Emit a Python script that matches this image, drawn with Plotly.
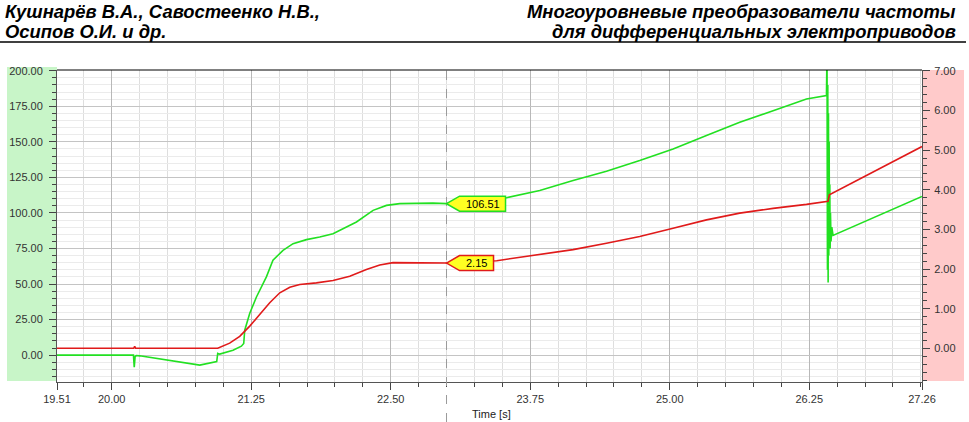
import plotly.graph_objects as go

# ---------------- data ----------------
green_t = [19.51, 20.195, 20.202, 20.210, 20.220, 20.251, 20.789, 20.878, 20.941, 20.950,
           20.968, 21.087, 21.162, 21.183, 21.192, 21.237, 21.297, 21.386, 21.445, 21.535,
           21.625, 21.745, 21.864, 21.983, 22.073, 22.193, 22.342, 22.462, 22.581, 22.877,
           23.000, 23.250, 23.537, 23.835, 24.134, 24.433, 24.731, 25.030, 25.329, 25.627,
           25.926, 26.225, 26.404,
           26.409, 26.413, 26.416, 26.419, 26.422, 26.425, 26.428, 26.431, 26.434, 26.437,
           26.440, 26.445, 26.452, 26.463, 27.260]
green_v = [0.0, 0.0, -8.5, -1.0, -0.3, -0.5, -7.0, -5.6, -4.5, 1.2,
           0.7, 3.5, 6.3, 8.2, 17.5, 29.5, 40.9, 55.0, 66.7, 73.7,
           78.4, 81.2, 83.0, 85.4, 88.9, 93.6, 101.8, 105.3, 106.5, 106.9,
           106.51, 107.6, 110.7, 115.8, 122.8, 129.3, 136.8, 145.0, 154.4, 163.7,
           171.9, 180.1, 182.5,
           215.0, 60.0, 190.0, 51.0, 170.0, 70.0, 150.0, 80.0, 120.0, 75.0,
           100.0, 80.0, 90.0, 84.2, 111.6]

red_t = [19.51, 20.197, 20.206, 20.215, 20.950, 20.968, 21.057, 21.147, 21.237, 21.326,
         21.416, 21.506, 21.596, 21.685, 21.834, 21.983, 22.133, 22.282, 22.402, 22.521,
         22.750, 23.000, 23.450, 23.835, 24.134, 24.433, 24.731, 25.030, 25.329, 25.627,
         25.926, 26.225, 26.404, 26.418, 26.430, 27.260]
red_v = [0.0, 0.0, 0.05, 0.0, 0.0, 0.02, 0.13, 0.30, 0.56, 0.85,
         1.15, 1.40, 1.54, 1.61, 1.65, 1.71, 1.82, 1.99, 2.10, 2.16,
         2.16, 2.15, 2.21, 2.36, 2.49, 2.65, 2.82, 3.03, 3.24, 3.41,
         3.53, 3.63, 3.69, 3.71, 3.87, 5.09]

x_tick_vals = [19.51, 20.00, 21.25, 22.50, 23.75, 25.00, 26.25, 27.26]
x_tick_text = ["19.51", "20.00", "21.25", "22.50", "23.75", "25.00", "26.25", "27.26"]
left_tick_vals = [0, 25, 50, 75, 100, 125, 150, 175, 200]
left_tick_text = ["0.00", "25.00", "50.00", "75.00", "100.00", "125.00", "150.00", "175.00", "200.00"]
right_tick_vals = [0, 1, 2, 3, 4, 5, 6, 7]
right_tick_text = ["0.00", "1.00", "2.00", "3.00", "4.00", "5.00", "6.00", "7.00"]

cursor_t = 23.0
cursor_green = 106.51
cursor_red = 2.15
cursor_green_text = "106.51"
cursor_red_text = "2.15"
x_title = "Time [s]"

header_left = ["Кушнарёв В.А., Савостеенко Н.В.,", "Осипов О.И. и др."]
header_right = ["Многоуровневые преобразователи частоты", "для дифференциальных электроприводов"]

# ---------------- layout helpers ----------------
W, H = 969, 422
ML, MR, MT, MB = 57, 47, 70, 40
PW, PH = W - ML - MR, H - MT - MB


def px(x):
    return (x - ML) / PW


def py(y):
    return (H - MB - y) / PH


FONT = "Liberation Sans, Arial, sans-serif"
GREEN = "#22e022"
RED = "#e01a1a"

fig = go.Figure()
fig.add_trace(go.Scatter(x=green_t, y=green_v, mode="lines",
                         line=dict(color=GREEN, width=1.6), yaxis="y", hoverinfo="skip"))
fig.add_trace(go.Scatter(x=red_t, y=red_v, mode="lines",
                         line=dict(color=RED, width=1.6), yaxis="y2", hoverinfo="skip"))

shapes = [
    # side panels
    dict(type="rect", xref="paper", yref="paper", x0=px(7), x1=0, y0=py(381), y1=py(67),
         fillcolor="#c8f5c8", line=dict(width=0), layer="below"),
    dict(type="rect", xref="paper", yref="paper", x0=1, x1=px(964), y0=py(381), y1=1,
         fillcolor="#ffcaca", line=dict(width=0), layer="below"),
    # top border
    dict(type="line", xref="paper", yref="paper", x0=0, x1=1, y0=1, y1=1,
         line=dict(color="#000000", width=1)),
    # cursor
    dict(type="line", xref="x", yref="paper", x0=cursor_t, x1=cursor_t, y0=py(422), y1=1,
         line=dict(color="#9a9a9a", width=1, dash="dash")),
    # header rule
    dict(type="line", xref="paper", yref="paper", x0=px(0), x1=px(966), y0=py(42), y1=py(42),
         line=dict(color="#000000", width=1.5)),
    # callouts
    dict(type="path", xref="x", yref="y", xsizemode="pixel", ysizemode="pixel",
         xanchor=cursor_t, yanchor=cursor_green,
         path="M0,0 L13,7.5 L59,7.5 L59,-7.5 L13,-7.5 Z",
         fillcolor="#ffff22", line=dict(color=GREEN, width=1.5)),
    dict(type="path", xref="x", yref="y2", xsizemode="pixel", ysizemode="pixel",
         xanchor=cursor_t, yanchor=cursor_red,
         path="M0,0 L13,7.5 L47,7.5 L47,-7.5 L13,-7.5 Z",
         fillcolor="#ffff22", line=dict(color=RED, width=1.5)),
]

annotations = [
    dict(x=cursor_t, y=cursor_green, xref="x", yref="y", text=cursor_green_text,
         showarrow=False, xanchor="center", yanchor="middle", xshift=36,
         font=dict(family=FONT, size=11, color="#000000")),
    dict(x=cursor_t, y=cursor_red, xref="x", yref="y2", text=cursor_red_text,
         showarrow=False, xanchor="center", yanchor="middle", xshift=30,
         font=dict(family=FONT, size=11, color="#000000")),
    dict(x=px(491), y=py(414), xref="paper", yref="paper", text=x_title, showarrow=False,
         xanchor="center", yanchor="middle", font=dict(family=FONT, size=11, color="#222222")),
]
hdr_font = dict(family=FONT, size=18.4, color="#000000")
for i, (lt, rt) in enumerate(zip(header_left, header_right)):
    yy = py(11 + 20 * i)
    annotations.append(dict(x=px(3), y=yy, xref="paper", yref="paper",
                            text="<b><i>" + lt + "</i></b>", showarrow=False,
                            xanchor="left", yanchor="middle", font=hdr_font))
    annotations.append(dict(x=px(958), y=yy, xref="paper", yref="paper",
                            text="<b><i>" + rt + "</i></b>", showarrow=False,
                            xanchor="right", yanchor="middle", font=hdr_font))

tickfont = dict(family=FONT, size=11, color="#333333")

fig.update_layout(
    width=W, height=H,
    margin=dict(l=ML, r=MR, t=MT, b=MB, pad=0, autoexpand=False),
    paper_bgcolor="#ffffff", plot_bgcolor="#ffffff",
    showlegend=False,
    shapes=shapes, annotations=annotations,
    xaxis=dict(range=[19.51, 27.26], tickmode="array", tickvals=x_tick_vals, ticktext=x_tick_text,
               ticks="outside", ticklen=7, tickcolor="#444444", tickfont=tickfont,
               showline=True, linecolor="#555555", linewidth=1, zeroline=False,
               showgrid=True, gridcolor="#b8b8b8", gridwidth=1, automargin=False,
               minor=dict(tickmode="linear", tick0=20, dtick=0.25, ticks="outside", ticklen=4,
                          tickcolor="#444444", showgrid=True, gridcolor="#dedede")),
    yaxis=dict(range=[-18.9, 200.5], tickmode="array", tickvals=left_tick_vals, ticktext=left_tick_text,
               ticks="outside", ticklen=7, tickcolor="#444444", tickfont=tickfont,
               ticklabelstandoff=4,
               showline=True, linecolor="#555555", linewidth=1, zeroline=False,
               showgrid=True, gridcolor="#c4c4c4", automargin=False,
               minor=dict(tickmode="linear", tick0=0, dtick=5, ticks="outside", ticklen=4,
                          tickcolor="#444444", showgrid=True, gridcolor="#ebebeb")),
    yaxis2=dict(range=[-0.85, 7.02], overlaying="y", side="right", tickmode="array",
                tickvals=right_tick_vals, ticktext=right_tick_text,
                ticks="outside", ticklen=7, tickcolor="#444444", tickfont=tickfont,
                ticklabelstandoff=2,
                showline=True, linecolor="#555555", linewidth=1, zeroline=False, showgrid=False,
                automargin=False,
                minor=dict(tickmode="linear", tick0=0, dtick=0.2, ticks="outside", ticklen=4,
                           tickcolor="#444444", showgrid=False)),
)

fig.write_html("out.html",
               config={"displayModeBar": False, "staticPlot": True},
               post_script="document.body.style.margin='0';document.body.style.padding='0';")
